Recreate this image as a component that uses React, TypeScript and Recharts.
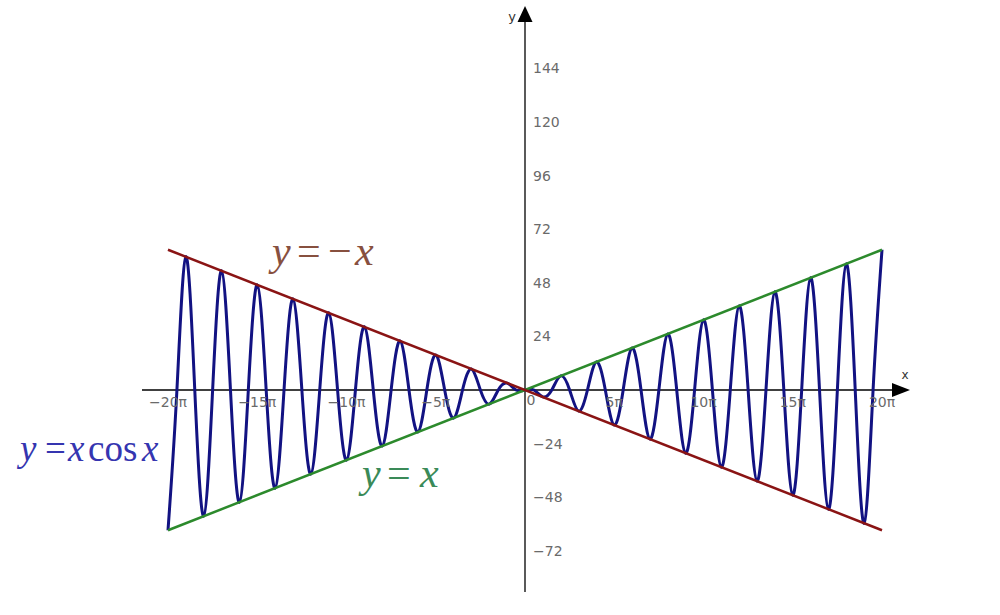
import { LineChart, Line, XAxis, YAxis, ReferenceLine, ReferenceDot } from "recharts";

// peaks of y = x cos x, x in multiples of pi
const PEAK_X_PI = [
  -20, -19, -18, -17, -16, -15, -14, -13, -12, -11, -10, -9, -8, -7, -6, -5, -4, -3, -2, -1, 0,
  1, 2, 3, 4, 5, 6, 7, 8, 9, 10, 11, 12, 13, 14, 15, 16, 17, 18, 19, 20,
];
const PEAK_Y = [
  -62.8, 59.7, -56.5, 53.4, -50.3, 47.1, -44.0, 40.8, -37.7, 34.6, -31.4, 28.3, -25.1, 22.0, -18.8,
  15.7, -12.6, 9.4, -6.3, 3.1, 0, -3.1, 6.3, -9.4, 12.6, -15.7, 18.8, -22.0, 25.1, -28.3, 31.4,
  -34.6, 37.7, -40.8, 44.0, -47.1, 50.3, -53.4, 56.5, -59.7, 62.8,
];
// where the curve crosses the x axis
const CROSS_X_PI = [
  -19.5, -18.5, -17.5, -16.5, -15.5, -14.5, -13.5, -12.5, -11.5, -10.5, -9.5, -8.5, -7.5, -6.5,
  -5.5, -4.5, -3.5, -2.5, -1.5, -0.5, 0.5, 1.5, 2.5, 3.5, 4.5, 5.5, 6.5, 7.5, 8.5, 9.5, 10.5,
  11.5, 12.5, 13.5, 14.5, 15.5, 16.5, 17.5, 18.5, 19.5,
];

// straight lines y = x and y = -x
const LINE_X_PI = [-20, 20];
const UP_Y = [-62.8, 62.8];
const DOWN_Y = [62.8, -62.8];

const X_TICKS_PI = [-20, -15, -10, -5, 0, 5, 10, 15, 20];
const X_TICK_LABELS = ["−20π", "−15π", "−10π", "−5π", "0", "5π", "10π", "15π", "20π"];
const Y_TICKS = [144, 120, 96, 72, 48, 24, -24, -48, -72];

const W = 1000;
const H = 615;
const X0 = 525; // pixel of x = 0
const Y0 = 390; // pixel of y = 0
const SX = 357 / (20 * Math.PI);
const SY = 140.3 / 62.83;

const pxX = (p: number) => (p - X0) / SX;
const pxY = (p: number) => (Y0 - p) / SY;

const waveData = [
  ...PEAK_X_PI.map((m, i) => ({ x: m * Math.PI, y: PEAK_Y[i] })),
  ...CROSS_X_PI.map((m) => ({ x: m * Math.PI, y: 0 })),
].sort((a, b) => a.x - b.x);
const upData = LINE_X_PI.map((m, i) => ({ x: m * Math.PI, y: UP_Y[i] }));
const downData = LINE_X_PI.map((m, i) => ({ x: m * Math.PI, y: DOWN_Y[i] }));

const TICK_FONT = "'DejaVu Sans', sans-serif";
const MATH_FONT = "'Liberation Serif', 'Times New Roman', serif";

type Seg = { t: string; dx: number; it?: boolean };

function formula(segs: Seg[], size: number, color: string) {
  return (p: any) => (
    <text fontFamily={MATH_FONT} fontSize={size} fill={color}>
      {segs.map((s, i) => (
        <tspan key={i} x={p.cx + s.dx} y={p.cy} fontStyle={s.it ? "italic" : "normal"}>
          {s.t}
        </tspan>
      ))}
    </text>
  );
}

export default function App() {
  return (
    <div style={{ position: "absolute", left: 0, top: 0, width: W, height: H, background: "#fff" }}>
      <LineChart width={W} height={H} margin={{ top: 0, right: 0, bottom: 0, left: 0 }}>
        <XAxis type="number" dataKey="x" domain={[pxX(0), pxX(W)]} allowDataOverflow hide />
        <YAxis type="number" dataKey="y" domain={[pxY(H), pxY(0)]} allowDataOverflow hide />

        {/* axes through the origin */}
        <ReferenceLine
          segment={[{ x: pxX(142), y: 0 }, { x: pxX(900), y: 0 }]}
          stroke="#000"
          strokeWidth={1.3}
        />
        <ReferenceLine
          segment={[{ x: 0, y: pxY(592) }, { x: 0, y: pxY(15) }]}
          stroke="#000"
          strokeWidth={1.3}
        />
        <ReferenceDot
          x={pxX(910)}
          y={0}
          r={1}
          shape={(p: any) => (
            <polygon
              points={`${p.cx},${p.cy} ${p.cx - 18},${p.cy - 7} ${p.cx - 18},${p.cy + 7}`}
              fill="#000"
            />
          )}
        />
        <ReferenceDot
          x={0}
          y={pxY(6)}
          r={1}
          shape={(p: any) => (
            <polygon
              points={`${p.cx},${p.cy} ${p.cx - 7.5},${p.cy + 16} ${p.cx + 7.5},${p.cy + 16}`}
              fill="#000"
            />
          )}
        />
        <ReferenceDot
          x={pxX(905)}
          y={pxY(375)}
          r={1}
          shape={(p: any) => (
            <text x={p.cx} y={p.cy} textAnchor="middle" dominantBaseline="central" fontFamily={TICK_FONT} fontSize={12} fill="#333">
              x
            </text>
          )}
        />
        <ReferenceDot
          x={pxX(512)}
          y={pxY(16)}
          r={1}
          shape={(p: any) => (
            <text x={p.cx} y={p.cy} textAnchor="middle" dominantBaseline="central" fontFamily={TICK_FONT} fontSize={13} fill="#333">
              y
            </text>
          )}
        />

        {X_TICKS_PI.map((m, i) => (
          <ReferenceDot
            key={`xt${m}`}
            x={m * Math.PI}
            y={0}
            r={1}
            shape={(p: any) => (
              <text
                x={m === 0 ? p.cx + 6 : p.cx}
                y={m === 0 ? p.cy + 10 : p.cy + 12}
                textAnchor="middle"
                dominantBaseline="central"
                fontFamily={TICK_FONT}
                fontSize={14}
                fill="#6a6a6a"
              >
                {X_TICK_LABELS[i]}
              </text>
            )}
          />
        ))}
        {Y_TICKS.map((v) => (
          <ReferenceDot
            key={`yt${v}`}
            x={0}
            y={v}
            r={1}
            shape={(p: any) => (
              <text
                x={p.cx + 8}
                y={p.cy}
                dominantBaseline="central"
                fontFamily={TICK_FONT}
                fontSize={14}
                fill="#6a6a6a"
              >
                {v < 0 ? `−${-v}` : v}
              </text>
            )}
          />
        ))}

        <Line
          data={waveData}
          dataKey="y"
          type="natural"
          stroke="#121282"
          strokeWidth={3}
          dot={false}
          activeDot={false}
          isAnimationActive={false}
        />
        <Line
          data={upData}
          dataKey="y"
          type="linear"
          stroke="#2c8a2c"
          strokeWidth={2.5}
          dot={false}
          activeDot={false}
          isAnimationActive={false}
        />
        <Line
          data={downData}
          dataKey="y"
          type="linear"
          stroke="#8a1414"
          strokeWidth={2.5}
          dot={false}
          activeDot={false}
          isAnimationActive={false}
        />

        {/* curve names */}
        <ReferenceDot
          x={pxX(20)}
          y={pxY(461)}
          r={1}
          shape={formula(
            [
              { t: "y", dx: 0, it: true },
              { t: "=", dx: 25 },
              { t: "x", dx: 48, it: true },
              { t: "cos", dx: 68 },
              { t: "x", dx: 122, it: true },
            ],
            37,
            "#3535b0"
          )}
        />
        <ReferenceDot
          x={pxX(362)}
          y={pxY(487)}
          r={1}
          shape={formula(
            [
              { t: "y", dx: 0, it: true },
              { t: "=", dx: 25 },
              { t: "x", dx: 58, it: true },
            ],
            42,
            "#3a8a58"
          )}
        />
        <ReferenceDot
          x={pxX(272)}
          y={pxY(265)}
          r={1}
          shape={formula(
            [
              { t: "y", dx: 0, it: true },
              { t: "=", dx: 25 },
              { t: "−", dx: 56 },
              { t: "x", dx: 83, it: true },
            ],
            42,
            "#87503f"
          )}
        />
      </LineChart>
    </div>
  );
}
